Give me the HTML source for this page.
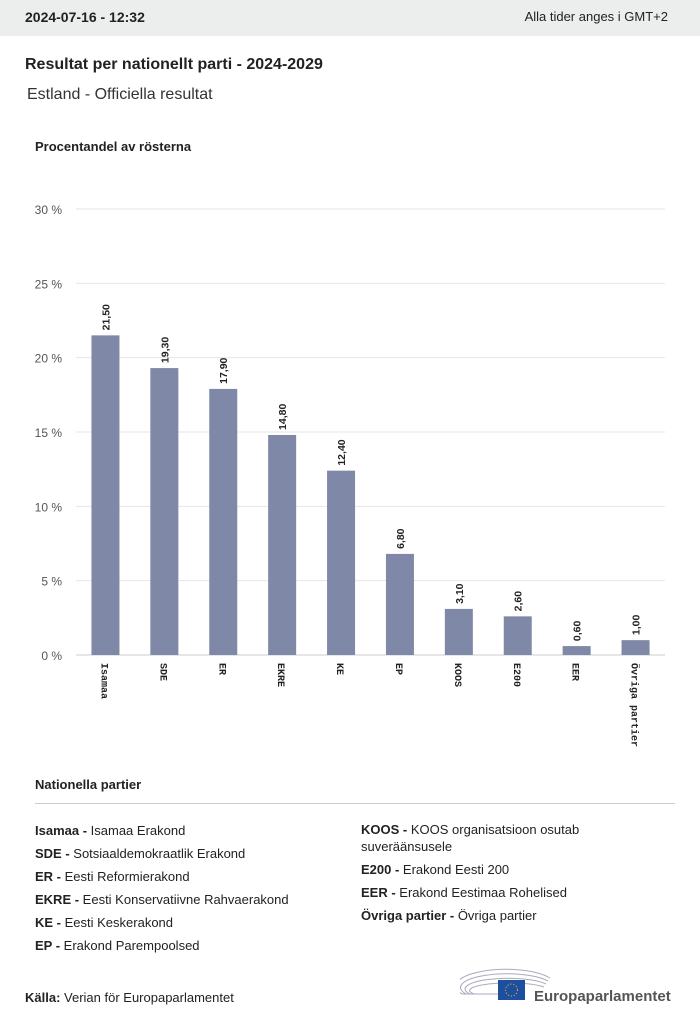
<!DOCTYPE html>
<html><head><meta charset="utf-8">
<style>
body{margin:0;width:700px;height:1023px;background:#fff;font-family:"Liberation Sans",sans-serif;color:#222;position:relative;overflow:hidden}
.top{position:absolute;left:0;top:0;width:700px;height:36px;background:#eceeee}
.abs{position:absolute;white-space:nowrap}
.leg{font-size:13px;line-height:23px}
.leg b{font-weight:bold}
</style></head><body>
<div class="top"></div>
<div class="abs" style="left:25px;top:9px;font-size:14px;font-weight:bold">2024-07-16 - 12:32</div>
<div class="abs" style="right:32px;top:9px;font-size:13px">Alla tider anges i GMT+2</div>
<div class="abs" style="left:25px;top:56px;font-size:16px;font-weight:bold">Resultat per nationellt parti - 2024-2029</div>
<div class="abs" style="left:27px;top:86px;font-size:16px;color:#333">Estland - Officiella resultat</div>
<div class="abs" style="left:35px;top:139px;font-size:13px;font-weight:bold">Procentandel av rösterna</div>
<svg class="abs" style="left:0;top:0" width="700" height="760" id="chart"></svg>
<div class="abs" style="left:35px;top:777px;font-size:13px;font-weight:bold">Nationella partier</div>
<div class="abs" style="left:35px;top:803px;width:640px;height:1px;background:#ccc"></div>
<div class="abs leg" style="left:35px;top:819px">
<div><b>Isamaa -</b> Isamaa Erakond</div>
<div><b>SDE -</b> Sotsiaaldemokraatlik Erakond</div>
<div><b>ER -</b> Eesti Reformierakond</div>
<div><b>EKRE -</b> Eesti Konservatiivne Rahvaerakond</div>
<div><b>KE -</b> Eesti Keskerakond</div>
<div><b>EP -</b> Erakond Parempoolsed</div>
</div>
<div class="abs leg" style="left:361px;top:821px;white-space:normal;width:300px;line-height:17px">
<div style="margin-bottom:6px"><b>KOOS -</b> KOOS organisatsioon osutab suveräänsusele</div>
<div style="margin-bottom:6px"><b>E200 -</b> Erakond Eesti 200</div>
<div style="margin-bottom:6px"><b>EER -</b> Erakond Eestimaa Rohelised</div>
<div><b>Övriga partier -</b> Övriga partier</div>
</div>
<div class="abs" style="left:25px;top:990px;font-size:13px"><b>Källa:</b> Verian för Europaparlamentet</div>
<svg class="abs" style="left:460px;top:964px" width="220" height="40">
<g fill="none" stroke="#aab" stroke-width="1">
<path d="M2 30 A48 16 0 0 1 90 14"/><path d="M6 30 A44 13 0 0 1 88 17"/><path d="M10 30 A40 10 0 0 1 86 20"/><path d="M14 30 A36 7 0 0 1 84 23"/>
<path d="M2 30 L38 30"/>
</g>
<rect x="38" y="16" width="27" height="20" fill="#1d4fa0"/>
<circle cx="51.5" cy="26" r="6" fill="none" stroke="#fc0" stroke-dasharray="1 2"/>
<text x="74" y="37" font-size="15" font-weight="bold" fill="#555" font-family="Liberation Sans,sans-serif">Europaparlamentet</text>
</svg>
<script>
const categories=["Isamaa","SDE","ER","EKRE","KE","EP","KOOS","E200","EER","Övriga partier"];
const values=[21.5,19.3,17.9,14.8,12.4,6.8,3.1,2.6,0.6,1.0];
const valueLabels=["21,50","19,30","17,90","14,80","12,40","6,80","3,10","2,60","0,60","1,00"];
const ticks=[0,5,10,15,20,25,30];
const tickLabels=["0 %","5 %","10 %","15 %","20 %","25 %","30 %"];
const svg=document.getElementById('chart');
const NS='http://www.w3.org/2000/svg';
const x0=76,x1=665,y0=655,y1=209,yMax=30;
const y=v=>y0-(v/yMax)*(y0-y1);
const step=(x1-x0)/categories.length;
const xc=i=>x0+step*(i+0.5);
function mk(t,a){const e=document.createElementNS(NS,t);for(const k in a)e.setAttribute(k,a[k]);svg.appendChild(e);return e;}
ticks.forEach((t,i)=>{
 const l=mk('line',{x1:x0,x2:x1,y1:y(t),y2:y(t),stroke:t===0?'#ccc':'#e6e6e6'});
 
 
 const tx=mk('text',{x:62,y:y(t)+5,'text-anchor':'end','font-size':12,fill:'#555','font-family':'Liberation Sans,sans-serif'});
 tx.textContent=tickLabels[i];
 
 
});
categories.forEach((c,i)=>{
 const b=mk('rect',{x:xc(i)-14,y:y(values[i]),width:28,height:y0-y(values[i]),fill:'#7f88a6'});
 
 
 const vx=xc(i)+4,vy=y(values[i])-5;
 const vl=mk('text',{x:vx,y:vy,transform:`rotate(-90 ${vx} ${vy})`,'font-size':10.5,'font-weight':'bold',fill:'#222','font-family':'Liberation Sans,sans-serif'});
 vl.textContent=valueLabels[i];
 
 
 const lx=xc(i)-4,ly=663;
 const cl=mk('text',{x:lx,y:ly,transform:`rotate(90 ${lx} ${ly})`,'font-size':10,'font-weight':'bold',fill:'#222','font-family':'Liberation Mono,monospace'});
 cl.textContent=c;
 
 
});
</script>
</body></html>
